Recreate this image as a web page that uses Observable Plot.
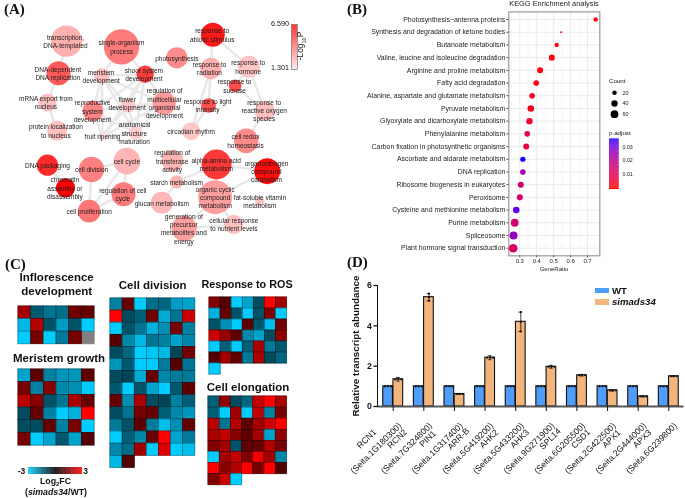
<!DOCTYPE html>
<html><head><meta charset="utf-8">
<script src="https://cdn.jsdelivr.net/npm/d3@7"></script>
<script src="https://cdn.jsdelivr.net/npm/@observablehq/plot@0.6"></script>
<style>
html,body{margin:0;padding:0;background:#fff}
#page{position:relative;width:685px;height:498px;overflow:hidden;font-family:"Liberation Sans",Arial,sans-serif;color:#111;filter:blur(.3px)}
#page svg{position:absolute;background:transparent;overflow:visible}
.t{position:absolute;white-space:nowrap;line-height:1}
.h{font-weight:bold;font-size:11.5px;color:#111}
.p{font-family:"Liberation Serif",serif;font-weight:bold;font-size:15px}
</style></head><body><div id="page"></div>
<script>
// ---------- Panel A: GO network ----------
const nodeNames=["transcription,\nDNA-templated","single-organism\nprocess","DNA-dependent\nDNA replication","meristem\ndevelopment","shoot system\ndevelopment","mRNA export from\nnucleus","reproductive\nsystem\ndevelopment","flower\ndevelopment","regulation of\nmulticellular\norganismal\ndevelopment","protein localization\nto nucleus","anatomical\nstructure\nmaturation","fruit ripening","response to\nabiotic stimulus","photosynthesis","response to\nradiation","response to\nhormone","response to\nsucrose","response to light\nintensity","response to\nreactive oxygen\nspecies","circadian rhythm","cell redox\nhomeostasis","DNA packaging","chromatin\nassembly or\ndisassembly","cell division","cell cycle","regulation of cell\ncycle","cell proliferation","regulation of\ntransferase\nactivity","alpha-amino acid\nmetabolism","organonitrogen\ncompound\ncatabolism","starch metabolism","organic cyclic\ncompound\nmetabolism","glucan metabolism","fat-soluble vitamin\nmetabolism","generation of\nprecursor\nmetabolites and\nenergy","cellular response\nto nutrient levels"];
const nodeX=[198,363,174,304,434,141,277,382,491,170,405,306,637,529,631,745,704,624,793,572,737,141,195,273,379,369,266,516,648,800,528,644,484,778,551,700];
const nodeY=[122,139,218,226,221,306,331,315,308,391,398,408,103,172,204,199,256,315,332,392,421,494,562,507,482,581,632,481,492,512,544,590,607,603,684,672];
const nodeSize=[47,53,36,23,26,27,31,22,35,30,21,14,36,32,32,33,19,22,30,27,37,32,29,38,40,36,34,33,45,39,20,51,33,14,38,29];
const nodeLogP=[2.51,3.76,4.48,2.14,5.17,2.14,3.51,1.95,3.02,2.14,1.77,1.4,5.99,3.34,2.51,2.04,4.8,4.73,2.14,1.95,3.39,5.62,6.59,3.62,2.39,3.76,3.85,2.39,5.29,6.31,2.39,2.9,2.32,2.02,2.88,2.14];
const labelX=[195,363,172,302,430,136,276,380,492,166,402,306,635,529,627,743,702,621,791,572,735,141,193,273,379,367,266,515,647,798,528,644,484,778,550,700];
const labelY=[122,139,218,228,221,305,331,309,308,391,397,408,103,172,204,199,256,315,329,392,421,494,562,507,482,581,632,481,491,512,544,590,607,602,684,672];
const devClique=[3,4,6,7,8,10,11];
const edgePairs=[[0,2],[2,5],[5,9],[1,3],[1,4],[12,14],[12,15],[14,17],[14,19],[17,19],[15,18],[16,18],[15,16],[18,20],[21,22],[23,24],[24,25],[24,26],[23,26],[25,26],[28,29],[31,29],[30,28],[30,32],[31,35],[31,34],[34,35],[28,31]];
// ---------- Panel B: KEGG ----------
const keggTerms=["Photosynthesis\u2212antenna proteins","Synthesis and degradation of ketone bodies","Butanoate metabolism","Valine, leucine and isoleucine degradation","Arginine and proline metabolism","Fatty acid degradation","Alanine, aspartate and glutamate metabolism","Pyruvate metabolism","Glyoxylate and dicarboxylate metabolism","Phenylalanine metabolism","Carbon fixation in photosynthetic organisms","Ascorbate and aldarate metabolism","DNA replication","Ribosome biogenesis in eukaryotes","Peroxisome","Cysteine and methionine metabolism","Purine metabolism","Spliceosome","Plant hormone signal transduction"];
const geneRatio=[.748,.544,.518,.489,.420,.397,.373,.365,.357,.344,.338,.318,.318,.306,.300,.279,.270,.263,.261];
const keggCount=[19,4,19,36,36,31,31,43,40,31,36,27,31,36,36,43,60,63,73];
const keggP=[.001,.012,.001,.001,.001,.001,.003,.002,.004,.007,.006,.0355,.024,.014,.013,.032,.014,.026,.012];
const countTicks=[20,40,60];
const pTicks=[.01,.02,.03];
// ---------- Panel C: heatmaps ----------
const inflorescence=[[1.9,-1.3,-1.7,-1.6,1.3,1.2],[-2.7,2.1,-1.2,-2.3,-1.2,-3],[-3,1.4,-3,-1.8,1.4,null]];
const meristem=[[-2.4,1.1,-1.9,-2.2,-2.2,1.1],[1.4,-1.9,1.6,-2,-2.1,-3],[2.2,1.6,-1.2,-1.7,2,1.2],[-1.1,1.2,-1.9,-3,-2.6,3],[-1.1,-1.1,1.2,-1.9,1.4,-3],[1.4,-3,-2.4,-1.3,-2.4,1]];
const cellDivision=[[-1.9,1.2,-3,-1.6,-1.5,-2.3,-2.4],[3,-1.1,-1.4,1.3,-2.5,-1.7,2.4],[-3,-1.2,-1.7,-2.6,-2.1,1.4,-1.9],[1,-2,-2.7,-1.7,-1.9,-2.4,-2],[-1.1,-1.5,-3,-2.9,-2.7,-1,1.3],[-2.2,-1.3,-3,-3,-1.8,1,-1.7],[-1.1,-1,-2.5,1.2,-2,-1.8,-1.8],[-1.3,-3,-1.2,-2.4,-3,-1.3,1.1],[1.2,-2.1,2,-1.1,-1,-1.9,-1.4],[-1.1,-1.7,1.4,1.2,-1.4,-2,-2.2],[-1.8,-1.2,1.1,-1.8,-2.8,-2.1,1.2],[-3,-1.4,-2,1.2,3,-2.4,-1.8],[-2,-1.6,1.9,-3,2.6,-3,-2.8],[-2.7,1]];
const responseROS=[[1.5,1,-3,-2.4,-1.1,3,1.9],[-2.6,1.2,-1.2,-3,-1.2,1.5,-3],[-1.2,-2.1,-3,1.1,-1.3,-2.8,1.3],[2.4,1.8,1.1,-2,-2.4,-1.1,1.7],[-3,-1.4,-3,-1.4,2,-1.8,-1.3],[1,1.9,1.1,-1.8,2,-1.1,-1.5],[-3]];
const cellElongation=[[-1.4,1.7,-1.1,-1.5,2.3,3,2],[-1.4,-3,1.9,-3,2.3,-1.9,1.4],[2.2,-1.7,2.1,1.1,1.9,2.4,3],[2,2.3,1.6,1.1,1.9,-2.4,1.7],[1.5,1.9,-1.2,1.1,1.2,2.1,1.4],[-3,1.9,2.3,1.5,2.8,1.9,-2],[3,1.6,2.1,3,1.4,3,1],[1.5,2.4,-3]];
// ---------- Panel D: qPCR ----------
const genes=["RCN1\n(Seita.1G180300)","RCN2\n(Seita.7G324800)","PIN1\n(Seita.1G317400)","ARR-B\n(Seita.5G419200)","AHK2\n(Seita.5G433200)","AHK3\n(Seita.9G271900)","SPL14\n(Seita.6G205500)","CSD1\n(Seita.2G422500)","APX1\n(Seita.2G444000)","APX3\n(Seita.6G239800)"];
const wtMean=[1,1,1,1,1,1,1,1,1,1];
const mutMean=[1.35,5.42,.62,2.42,4.2,1.97,1.55,.8,.5,1.5];
const mutErr=[.09,.18,.02,.1,.48,.07,.04,.04,.02,.02];
const seriesNames=["WT","simads34"];
const seriesColors=["#4f9cfa","#f2b67d"];

const page=document.getElementById("page");
function place(svg,x,y){svg.style.left=x+"px";svg.style.top=y+"px";page.appendChild(svg);}
function txt(html,x,y,cls,css,ax){const d=document.createElement("div");d.className="t "+(cls||"");d.innerHTML=html;d.style.cssText+=`left:${x}px;top:${y}px;transform:translate(${ax==null?0:ax}%,-50%);`+(css||"");page.appendChild(d);}
const F='"Liberation Sans",Arial,sans-serif';

// ===== A =====
const nodes=nodeNames.map((n,i)=>({n,x:nodeX[i],y:nodeY[i],s:nodeSize[i],p:nodeLogP[i],lx:labelX[i],ly:labelY[i]}));
const edges=edgePairs.slice();
devClique.forEach((a,i)=>devClique.slice(i+1).forEach(b=>edges.push([a,b])));
const pColor={type:"linear",domain:[1.301,6.59],range:["#ffe4e4","#ff0000"],interpolate:"rgb"};
place(Plot.plot({width:340,height:255,margin:0,style:{fontFamily:F},
  x:{domain:[0,1020],axis:null},y:{domain:[765,0],axis:null},
  r:{type:"linear",domain:[0,100],range:[0,33.3]},color:pColor,
  marks:[
    Plot.link(edges,{x1:d=>nodeX[d[0]],y1:d=>nodeY[d[0]],x2:d=>nodeX[d[1]],y2:d=>nodeY[d[1]],stroke:"#e8e8e8",strokeWidth:2.4}),
    Plot.dot(nodes,{x:"x",y:"y",r:"s",fill:"p",stroke:"none"}),
    Plot.text(nodes,{x:"lx",y:"ly",text:"n",fontSize:6.5,lineHeight:1.28,fill:"#1a1a1a"})
  ]}),0,0);
// A colour bar
const aBar=d3.range(1.301,6.59,.05);
place(Plot.plot({width:8,height:47,margin:1,x:{domain:[0,1],axis:null},y:{domain:[1.301,6.59],axis:null},color:pColor,
  marks:[Plot.rect(aBar,{x1:0,x2:1,y1:d=>d,y2:d=>Math.min(6.59,d+.06),fill:d=>d}),Plot.frame({stroke:"#888",strokeWidth:.8})]}),290,23);
txt("6.590",289,24,"","font-size:7.2px;",-100);
txt("1.301",289,67.7,"","font-size:7.2px;",-100);
txt("-Log<sub style='font-size:5.5px'>10</sub>P",301.5,46,"","font-size:8.4px;transform:translate(-50%,-50%) rotate(-90deg);");

// ===== B =====
const kegg=keggTerms.map((t,i)=>({t,g:geneRatio[i],c:keggCount[i],p:keggP[i]}));
const kR={type:"sqrt",domain:[0,80],range:[0,4.5]};
const kC={type:"linear",domain:[0,.0357],range:["#ff0000","#0000ff"],interpolate:"lab"};
place(Plot.plot({width:345,height:280,marginLeft:168.3,marginRight:85.7,marginTop:11.4,marginBottom:24.7,style:{fontFamily:F,color:"#222"},
  x:{domain:[.235,.7726]},y:{type:"point",domain:keggTerms,padding:.6,round:false},r:kR,color:kC,
  marks:[
    Plot.ruleX(d3.range(.25,.78,.1),{stroke:"#f3f3f3",strokeWidth:.6}),
    Plot.ruleX([.3,.4,.5,.6,.7],{stroke:"#ebebeb",strokeWidth:1}),
    Plot.ruleY(keggTerms,{stroke:"#ebebeb",strokeWidth:1}),
    Plot.frame({stroke:"#9a9a9a",strokeWidth:1.2}),
    Plot.axisY({tickSize:2,tickPadding:1.5,fontSize:6.9,label:null,stroke:"#555"}),
    Plot.axisX({ticks:[.3,.4,.5,.6,.7],tickSize:2,tickPadding:1,fontSize:5.9,label:null,tickFormat:".1f",stroke:"#555"}),
    Plot.dot(kegg,{x:"g",y:"t",r:"c",fill:"p"})
  ]}),340,0);
txt("KEGG Enrichment analysis",554,4,"","font-size:7.4px;color:#222;",-50);
txt("GeneRatio",554,268.7,"","font-size:6px;color:#222;",-50);
txt("Count",609,80.7,"","font-size:6.2px;");
txt("p.adjust",609,132.7,"","font-size:6.2px;");
place(Plot.plot({width:30,height:32,margin:0,style:{fontFamily:F},r:kR,x:{domain:[0,30],axis:null},y:{type:"point",domain:countTicks,padding:.5,round:false,axis:null},
  marks:[Plot.dot(countTicks,{x:5,y:d=>d,r:d=>d,fill:"#000"}),Plot.text(countTicks,{x:13,y:d=>d,text:d=>d,textAnchor:"start",fontSize:5.5,fill:"#222"})]}),609,86.5);
const bBar=d3.range(0,.0357,.0004);
place(Plot.plot({width:34,height:50,margin:0,style:{fontFamily:F},x:{domain:[0,34],axis:null},y:{domain:[-.0013,.0357],axis:null},color:kC,
  marks:[Plot.rect(bBar,{x1:0,x2:9.7,y1:d=>d,y2:d=>d+.0005,fill:d=>d}),Plot.rect([[-.0013,0]],{x1:0,x2:9.7,y1:d=>d[0],y2:d=>d[1],fill:()=>0}),
    Plot.text(pTicks,{x:13,y:d=>d,text:d=>d.toFixed(2),textAnchor:"start",fontSize:5.3,fill:"#222"})]}),609.3,139.3);

// ===== C =====
const heatColor={type:"linear",domain:[-3,0,3],range:["#00ccff","#000000","#ff0000"],interpolate:"rgb"};
function heat(m,x,y,w,h){
  const cols=d3.max(m,r=>r.length);
  const cells=m.flatMap((r,i)=>r.map((v,j)=>({i,j,v})));
  const known=cells.filter(d=>d.v!=null);
  place(Plot.plot({width:w+2,height:h+2,margin:1,color:heatColor,
    x:{domain:d3.range(cols),padding:0,round:false,axis:null},y:{domain:d3.range(m.length),padding:0,round:false,axis:null},
    marks:[
      Plot.cell(cells,{x:"j",y:"i",fill:"#aaa",stroke:"#aaa",strokeWidth:1.4,inset:0}),
      Plot.cell(cells.filter(d=>d.v==null),{x:"j",y:"i",fill:"#808080",stroke:"#808080",strokeWidth:.6,inset:0}),
      Plot.cell(known,{x:"j",y:"i",fill:"v",stroke:"v",strokeWidth:.7,inset:0}),
      Plot.cell(known,{x:"j",y:"i",fill:"none",stroke:"#000",strokeWidth:.4,strokeOpacity:.45,inset:0})
    ]}),x-1,y-1);
}
heat(inflorescence,18,305.7,76,37.6);
heat(meristem,18,369,76,76);
heat(cellDivision,110.3,297.7,84.7,169.3);
heat(responseROS,209.3,297.3,77.4,77);
heat(cellElongation,208.3,395.7,78.4,88.6);
txt("Inflorescence",56.7,277.7,"h","",-50);
txt("development",56.7,291.7,"h","",-50);
txt("Meristem growth",59,358.7,"h","",-50);
txt("Cell division",152.7,286,"h","",-50);
txt("Response to ROS",247,284,"h","font-size:10.8px;",-50);
txt("Cell elongation",248,388,"h","",-50);
const cBar=d3.range(-3,3,.05);
place(Plot.plot({width:54,height:7,margin:0,x:{domain:[-3,3],axis:null},y:{domain:[0,1],axis:null},color:heatColor,
  marks:[Plot.rect(cBar,{x1:d=>d,x2:d=>Math.min(3,d+.07),y1:0,y2:1,fill:d=>d})]}),28,467);
txt("-3",21.5,470.7,"","font-size:8.5px;font-weight:bold;",-50);
txt("3",85.5,470.7,"","font-size:8.5px;font-weight:bold;",-50);
txt("Log<sub style='font-size:6px'>2</sub>FC",55.5,482,"","font-size:8.8px;font-weight:bold;",-50);
txt("(<i>simads34</i>/WT)",56,492.3,"","font-size:8.8px;font-weight:bold;",-50);

// ===== D =====
const bars=genes.flatMap((g,i)=>[{g,s:"WT",v:wtMean[i],e:0},{g,s:"simads34",v:mutMean[i],e:mutErr[i]}]);
const bandX={domain:seriesNames,paddingInner:.05,paddingOuter:.525,round:false,axis:null};
const spread=bars.filter(d=>d.e<.15), stacked=bars.filter(d=>d.e>=.15);
const dotMark=(rows,value,dx)=>Plot.dot(rows,{fx:"g",x:"s",y:value,r:1.1,fill:"#111",dx});
place(Plot.plot({width:365,height:233,marginLeft:57.4,marginRight:1.4,marginTop:20,marginBottom:92,style:{fontFamily:F,color:"#111"},
  fx:{domain:genes,padding:0,round:false,axis:null,label:null},x:bandX,y:{domain:[0,6],axis:null},
  color:{domain:seriesNames,range:seriesColors},
  marks:[
    Plot.barY(bars,{fx:"g",x:"s",y:"v",fill:"s",stroke:"#111",strokeWidth:1.1}),
    Plot.ruleX(bars.filter(d=>d.e>0),{fx:"g",x:"s",y1:d=>d.v-d.e,y2:d=>d.v+d.e,stroke:"#111",strokeWidth:.8}),
    Plot.tickY(bars.filter(d=>d.e>0),{fx:"g",x:"s",y:d=>d.v+d.e,stroke:"#111",strokeWidth:.8,insetLeft:3,insetRight:3}),
    Plot.tickY(bars.filter(d=>d.e>0),{fx:"g",x:"s",y:d=>d.v-d.e,stroke:"#111",strokeWidth:.8,insetLeft:3,insetRight:3}),
    dotMark(spread,"v",-3),dotMark(spread,"v",0),dotMark(spread,"v",3),
    dotMark(stacked,d=>d.v-d.e,0),dotMark(stacked,"v",0),dotMark(stacked,d=>d.v+d.e,0),
    Plot.ruleY([0],{stroke:"#555",strokeWidth:2}),
    Plot.axisFx({anchor:"bottom",tickSize:5,tickFormat:()=>"",label:null,stroke:"#111"}),
    Plot.axisY({ticks:[0,2,4,6],tickSize:4,tickPadding:2,fontSize:8.8,fontWeight:"bold",label:null,tickFormat:"d",stroke:"#111",strokeWidth:1.3}),
    Plot.text(genes,{fx:d=>d,text:d=>d,frameAnchor:"bottom",lineAnchor:"middle",textAnchor:"middle",dx:-23,dy:36,rotate:-45,fontSize:8.6,lineHeight:1.55,fill:"#111"})
  ]}),320,265);
// y axis line
const axisLine=document.createElement("div");axisLine.style.cssText="position:absolute;left:376.7px;top:285px;width:1.4px;height:122px;background:#111";page.appendChild(axisLine);
txt("Relative transcript abundance",356,345.5,"","font-size:9.9px;font-weight:bold;transform:translate(-50%,-50%) rotate(-90deg);");
seriesNames.forEach((s,i)=>{const b=document.createElement("div");b.style.cssText=`position:absolute;left:595px;top:${287.7+i*11.3}px;width:14px;height:5.6px;background:${seriesColors[i]}`;page.appendChild(b);});
txt("WT",612,291,"","font-size:9.6px;font-weight:bold;");
txt("<i>simads34</i>",612,302,"","font-size:9.6px;font-weight:bold;");

// panel letters
txt("(A)",4,9,"p");txt("(B)",347,9,"p");txt("(C)",5,264,"p");txt("(D)",347,262,"p");
</script></body></html>
